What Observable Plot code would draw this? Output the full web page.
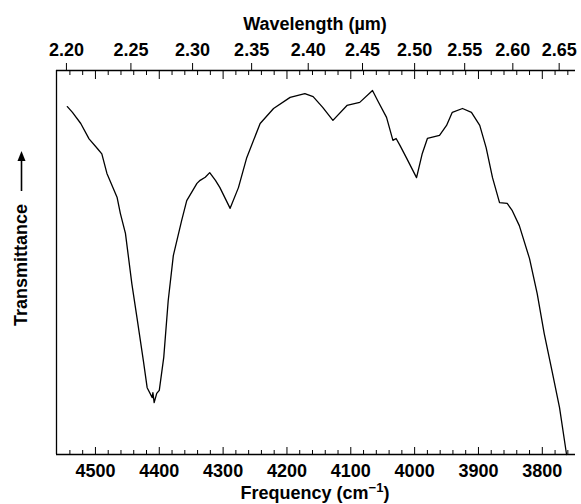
<!DOCTYPE html>
<html><head><meta charset="utf-8">
<script src="https://cdn.jsdelivr.net/npm/d3@7"></script>
<script src="https://cdn.jsdelivr.net/npm/@observablehq/plot@0.6"></script>
<style>body{margin:0;background:#fff} svg{display:block}</style>
</head><body><div id="chart"></div>
<script>
// Frequency (cm^-1) and relative transmittance
const frequency = [4544,4536,4523,4510,4497,4490,4482,4466,4461,4453,4443,4435,4425,4419,4411,4410,4408,4404,4400,4393,4386,4378,4365,4357,4341,4336,4328,4321,4312,4305,4289,4276,4263,4242,4221,4195,4172,4159,4144,4128,4106,4086,4066,4058,4044,4034,4029,4023,4013,3997,3988,3980,3961,3950,3941,3925,3911,3898,3888,3878,3867,3855,3847,3836,3820,3808,3797,3784,3773,3762];
const transmittance = [90.6,89.1,86.2,82.2,79.7,78.3,73.2,66.9,62.8,57.6,44.5,35.7,24.5,17.4,14.8,16.1,13.5,15.9,16.7,25.3,40.1,51.8,60.9,66.1,70.6,71.4,72.2,73.4,71.4,69.5,64.1,69.5,77.3,86.2,90.1,93.0,94.0,93.2,90.4,87.0,90.9,91.7,94.8,92.2,87.8,81.8,82.3,80.5,77.3,72.1,78.4,82.3,83.1,85.7,89.1,90.1,89.1,85.7,79.9,72.1,65.6,65.4,63.5,59.6,51.0,41.9,31.5,21.1,12.2,0];
const frequencyTicks = [4500,4400,4300,4200,4100,4000,3900,3800];
const wavelengthTicks = [2.20,2.25,2.30,2.35,2.40,2.45,2.50,2.55,2.60,2.65];
const xDomain = [4561, 3748];
const yDomain = [0, 100];

const minorTicks = d3.range(3760, 4560, 20).filter(f => f % 100 !== 0);
const data = frequency.map((f, i) => ({f, t: transmittance[i]}));
const font = "'Liberation Sans', Arial, Helvetica, sans-serif";
const blank = () => "";

const chart = Plot.plot({
  width: 581, height: 504,
  marginLeft: 56, marginRight: 6, marginTop: 70, marginBottom: 50,
  x: {domain: xDomain, axis: null},
  y: {domain: yDomain, axis: null},
  style: {fontFamily: font, fontSize: "18px", fontWeight: "bold", color: "black", background: "white", overflow: "visible"},
  marks: [
    Plot.ruleY(yDomain, {stroke: "black", strokeWidth: 1.3}),
    Plot.ruleX([xDomain[0]], {stroke: "black", strokeWidth: 1.3}),
    // bottom: inward ticks
    Plot.axisX(minorTicks, {anchor: "bottom", tickSize: 4, dy: -4, tickFormat: blank, label: null}),
    Plot.axisX(frequencyTicks, {anchor: "bottom", tickSize: 7, dy: -7, tickFormat: blank, label: null}),
    Plot.axisX(frequencyTicks, {anchor: "bottom", tickSize: 0, tickPadding: 10, label: null, tickFormat: d => String(d)}),
    // top: inward frequency ticks
    Plot.axisX(minorTicks, {anchor: "top", tickSize: 4, dy: 4, tickFormat: blank, label: null}),
    Plot.axisX(frequencyTicks, {anchor: "top", tickSize: 8, dy: 8, tickFormat: blank, label: null}),
    // top: outward wavelength ticks
    Plot.axisX(wavelengthTicks.map(w => 1e4 / w), {anchor: "top", tickSize: 8, tickPadding: 7, label: null, tickFormat: d => (1e4 / d).toFixed(2)}),
    Plot.line(data, {x: "f", y: "t", stroke: "black", strokeWidth: 1.3})
  ]
});

const svg = d3.select(chart);
svg.append("text").attr("x", 315).attr("y", 30).attr("text-anchor", "middle")
  .attr("font-family", font).attr("font-size", 18).attr("font-weight", "bold")
  .text("Wavelength (µm)");
const ft = svg.append("text").attr("x", 315).attr("y", 499).attr("text-anchor", "middle")
  .attr("font-family", font).attr("font-size", 18).attr("font-weight", "bold");
ft.append("tspan").text("Frequency (cm");
ft.append("tspan").attr("dy", -7).attr("font-size", 13).text("−1");
ft.append("tspan").attr("dy", 7).text(")");
svg.append("text").attr("transform", "translate(27,265) rotate(-90)").attr("text-anchor", "middle")
  .attr("font-family", font).attr("font-size", 18).attr("font-weight", "bold")
  .text("Transmittance");
svg.append("line").attr("x1", 21.5).attr("x2", 21.5).attr("y1", 191).attr("y2", 160)
  .attr("stroke", "black").attr("stroke-width", 1.6);
svg.append("path").attr("d", "M21.5,151 L17.5,161 L25.5,161 Z").attr("fill", "black");

document.getElementById("chart").appendChild(chart);
</script>
</body></html>
